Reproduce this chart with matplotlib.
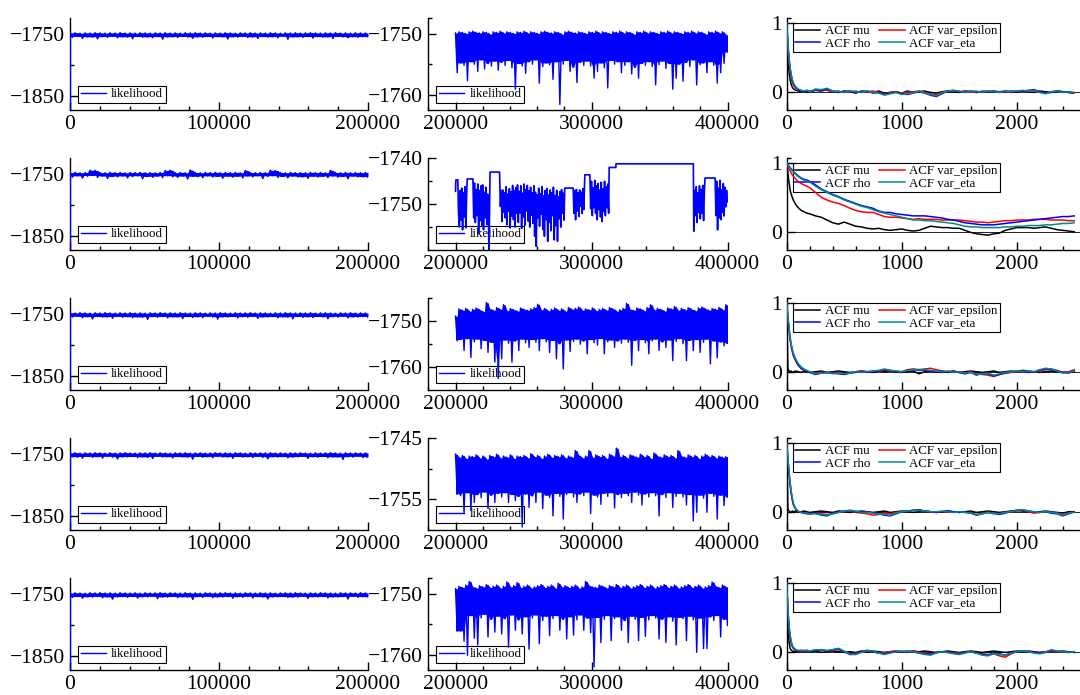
import numpy as np
import matplotlib
matplotlib.use("Agg")
import matplotlib.pyplot as plt
from matplotlib.lines import Line2D
from matplotlib.ticker import FixedLocator, MultipleLocator

plt.rcParams['font.family'] = ['Liberation Serif', 'DejaVu Serif']
plt.rcParams['axes.unicode_minus'] = True
# keep every vertex of the dense traces
plt.rcParams['path.simplify'] = False

BLUE = '#0000ff'
ACF_COLORS = {'mu': '#000000', 'rho': '#0000ff', 'var_epsilon': '#ff0000', 'var_eta': '#008b8b'}

# ---------------------------------------------------------------------------
# Likelihood traces, first half of each chain (iterations 0 - 200000).
# Each chain starts far below the window; after that the trace alternates
# between the upper and lower edge of its band (hi / lo readings).
# ---------------------------------------------------------------------------
LEFT_START = [-1900.0, -1900.0, -1900.0, -1900.0, -1900.0]

LEFT_HI_1 = [-1748.6, -1748.2, -1748.9, -1748.4, -1748.7, -1748.1, -1748.5, -1748.8, -1748.3, -1748.6,
             -1748.0, -1748.7, -1748.4, -1748.9, -1748.2, -1748.5, -1748.8, -1748.3, -1748.6, -1748.1,
             -1748.7, -1748.4, -1748.9, -1748.2, -1748.5, -1748.0, -1748.6, -1748.3, -1748.8, -1748.4,
             -1748.7, -1748.1, -1748.5, -1748.9, -1748.3, -1748.6, -1748.2, -1748.7, -1748.4, -1748.8,
             -1748.1, -1748.5, -1748.9, -1748.3, -1748.6, -1748.2, -1748.7, -1748.4, -1748.0, -1748.5,
             -1748.8, -1748.3, -1748.6, -1748.1, -1748.7, -1748.4, -1748.9, -1748.2, -1748.5, -1748.6]
LEFT_LO_1 = [-1756.0, -1754.2, -1757.5, -1754.8, -1755.3, -1758.1, -1754.5, -1755.9, -1754.1, -1756.6,
             -1754.7, -1755.2, -1757.8, -1754.3, -1755.6, -1754.9, -1756.3, -1754.4, -1758.6, -1755.1,
             -1754.6, -1756.0, -1754.2, -1755.4, -1757.2, -1754.8, -1755.7, -1754.3, -1756.8, -1754.5,
             -1755.0, -1758.3, -1754.7, -1755.5, -1754.2, -1756.1, -1754.9, -1757.4, -1754.4, -1755.3,
             -1754.6, -1756.5, -1754.1, -1758.8, -1755.2, -1754.7, -1755.8, -1754.3, -1756.9, -1754.5,
             -1755.4, -1754.8, -1757.6, -1754.2, -1755.1, -1756.4, -1754.6, -1755.7, -1754.4, -1755.0]

LEFT_HI_2 = [-1748.0, -1747.6, -1748.3, -1747.8, -1744.2, -1744.4, -1747.9, -1748.2, -1747.5, -1748.0,
             -1747.7, -1748.4, -1747.8, -1748.1, -1747.6, -1748.2, -1747.9, -1748.3, -1747.7, -1744.5,
             -1744.0, -1748.1, -1747.6, -1748.2, -1743.8, -1747.9, -1748.3, -1747.7, -1748.0, -1747.5,
             -1748.2, -1747.8, -1748.1, -1747.6, -1748.3, -1744.4, -1747.9, -1748.2, -1747.7, -1748.0,
             -1744.1, -1744.6, -1747.8, -1748.3, -1747.6, -1748.1, -1747.9, -1748.2, -1747.5, -1748.0,
             -1747.7, -1748.3, -1744.3, -1747.8, -1748.1, -1747.6, -1748.2, -1747.9, -1748.0, -1747.7]
LEFT_LO_2 = [-1755.5, -1753.2, -1756.8, -1754.0, -1752.6, -1755.9, -1753.5, -1757.4, -1754.2, -1755.0,
             -1753.4, -1756.5, -1754.6, -1753.1, -1757.9, -1754.3, -1755.6, -1753.7, -1756.1, -1753.0,
             -1754.8, -1755.7, -1753.6, -1758.4, -1753.9, -1754.5, -1756.3, -1753.3, -1755.2, -1754.1,
             -1757.0, -1753.8, -1755.4, -1754.0, -1756.7, -1753.5, -1754.9, -1753.2, -1757.6, -1754.4,
             -1753.0, -1755.8, -1754.2, -1756.4, -1753.6, -1755.1, -1754.7, -1757.2, -1753.9, -1755.3,
             -1754.0, -1756.0, -1753.4, -1755.5, -1754.3, -1758.0, -1753.7, -1755.0, -1754.5, -1755.6]

LEFT_HI_3 = [-1748.3, -1748.7, -1748.1, -1748.5, -1748.9, -1748.2, -1748.6, -1748.0, -1748.4, -1748.8,
             -1748.3, -1748.6, -1748.1, -1748.7, -1748.4, -1748.9, -1748.2, -1748.5, -1748.0, -1748.6,
             -1748.3, -1748.8, -1748.1, -1748.5, -1748.7, -1748.2, -1748.4, -1748.9, -1748.3, -1748.6,
             -1748.0, -1748.5, -1748.8, -1748.2, -1748.6, -1748.4, -1748.1, -1748.7, -1748.3, -1748.5,
             -1748.9, -1748.2, -1748.6, -1748.0, -1748.4, -1748.7, -1748.3, -1748.5, -1748.1, -1748.8,
             -1748.4, -1748.2, -1748.6, -1748.9, -1748.3, -1748.5, -1748.0, -1748.7, -1748.4, -1748.6]
LEFT_LO_3 = [-1755.2, -1754.0, -1756.4, -1754.6, -1758.2, -1754.3, -1755.5, -1754.8, -1757.1, -1754.1,
             -1755.8, -1754.5, -1756.2, -1754.9, -1755.3, -1759.0, -1754.4, -1755.7, -1754.2, -1756.5,
             -1754.7, -1755.1, -1757.6, -1754.3, -1755.9, -1754.6, -1756.1, -1754.0, -1755.4, -1758.5,
             -1754.8, -1755.2, -1754.3, -1756.7, -1754.5, -1755.6, -1754.1, -1757.3, -1754.9, -1755.0,
             -1754.4, -1756.3, -1754.7, -1755.5, -1758.0, -1754.2, -1755.8, -1754.6, -1756.0, -1754.3,
             -1755.1, -1757.8, -1754.5, -1755.4, -1754.0, -1756.6, -1754.8, -1755.3, -1754.2, -1755.7]

LEFT_HI_4 = [-1748.5, -1748.1, -1748.8, -1748.3, -1748.6, -1748.0, -1748.4, -1748.9, -1748.2, -1748.7,
             -1748.4, -1748.1, -1748.6, -1748.8, -1748.3, -1748.5, -1748.0, -1748.7, -1748.2, -1748.6,
             -1748.9, -1748.3, -1748.5, -1748.1, -1748.7, -1748.4, -1748.2, -1748.8, -1748.5, -1748.0,
             -1748.6, -1748.3, -1748.7, -1748.1, -1748.4, -1748.9, -1748.2, -1748.6, -1748.3, -1748.5,
             -1748.0, -1748.7, -1748.4, -1748.8, -1748.2, -1748.5, -1748.1, -1748.6, -1748.9, -1748.3,
             -1748.7, -1748.4, -1748.0, -1748.5, -1748.8, -1748.2, -1748.6, -1748.3, -1748.7, -1748.4]
LEFT_LO_4 = [-1754.6, -1755.3, -1757.0, -1754.2, -1755.8, -1754.5, -1756.9, -1754.0, -1755.4, -1758.3,
             -1754.7, -1755.1, -1754.3, -1756.2, -1754.8, -1755.6, -1757.5, -1754.1, -1755.2, -1754.6,
             -1756.8, -1754.4, -1755.0, -1754.9, -1758.7, -1754.2, -1755.7, -1754.5, -1756.4, -1754.0,
             -1755.3, -1754.8, -1757.2, -1754.3, -1755.5, -1754.6, -1756.0, -1754.1, -1755.9, -1758.1,
             -1754.7, -1755.2, -1754.4, -1756.6, -1754.9, -1755.0, -1754.2, -1757.4, -1754.6, -1755.6,
             -1754.3, -1756.3, -1754.8, -1755.1, -1758.9, -1754.5, -1755.4, -1754.0, -1756.1, -1755.0]

LEFT_HI_5 = [-1748.7, -1748.3, -1748.6, -1748.9, -1748.2, -1748.5, -1748.0, -1748.6, -1748.4, -1748.8,
             -1748.1, -1748.5, -1748.7, -1748.3, -1748.9, -1748.2, -1748.6, -1748.4, -1748.0, -1748.7,
             -1748.3, -1748.5, -1748.8, -1748.1, -1748.6, -1748.4, -1748.9, -1748.2, -1748.5, -1748.7,
             -1748.3, -1748.0, -1748.6, -1748.4, -1748.8, -1748.2, -1748.5, -1748.7, -1748.1, -1748.6,
             -1748.3, -1748.9, -1748.4, -1748.2, -1748.6, -1748.0, -1748.5, -1748.8, -1748.3, -1748.7,
             -1748.1, -1748.4, -1748.6, -1748.9, -1748.2, -1748.5, -1748.3, -1748.7, -1748.0, -1748.5]
LEFT_LO_5 = [-1755.9, -1754.3, -1757.2, -1754.7, -1755.4, -1754.1, -1756.5, -1754.8, -1758.6, -1755.0,
             -1754.4, -1755.7, -1754.2, -1756.9, -1754.6, -1755.2, -1754.0, -1757.7, -1754.9, -1755.5,
             -1754.3, -1756.2, -1754.7, -1755.1, -1759.1, -1754.5, -1755.8, -1754.1, -1756.4, -1754.8,
             -1755.3, -1754.2, -1757.0, -1754.6, -1755.6, -1754.0, -1756.8, -1754.4, -1755.2, -1758.2,
             -1754.7, -1755.0, -1754.3, -1756.1, -1754.9, -1755.5, -1754.1, -1757.5, -1754.6, -1755.3,
             -1754.2, -1756.7, -1754.8, -1755.1, -1754.4, -1758.4, -1754.0, -1755.7, -1754.5, -1755.2]

# ---------------------------------------------------------------------------
# Likelihood traces, second half (iterations 200000 - 400000).
# ---------------------------------------------------------------------------
MID_HI_1 = [-1749.9, -1749.7, -1749.8, -1750.0, -1749.7, -1749.6, -1749.8, -1749.9, -1749.7, -1749.8,
            -1750.1, -1749.7, -1749.8, -1749.6, -1749.9, -1749.7, -1749.8, -1750.0, -1749.7, -1749.8,
            -1749.6, -1749.9, -1749.7, -1749.8, -1750.0, -1749.7, -1749.6, -1749.8, -1749.9, -1749.7,
            -1749.8, -1750.1, -1749.7, -1749.6, -1749.8, -1749.9, -1749.7, -1749.8, -1750.0, -1749.7,
            -1749.8, -1749.6, -1749.9, -1749.7, -1749.8, -1750.0, -1749.7, -1749.8, -1749.6, -1749.9,
            -1749.7, -1749.8, -1750.1, -1749.7, -1749.8, -1749.6, -1749.9, -1749.7, -1749.8, -1750.0,
            -1749.7, -1749.8, -1749.6, -1749.9, -1749.7, -1749.8, -1750.0, -1749.7, -1749.8, -1749.6,
            -1749.9, -1749.7, -1749.8, -1750.1, -1749.7, -1749.8, -1749.6, -1749.9, -1749.7, -1750.2]
MID_LO_1 = [-1756.4, -1754.8, -1755.2, -1757.7, -1754.6, -1755.0, -1756.2, -1754.3, -1755.8, -1754.9,
            -1755.3, -1754.5, -1756.0, -1754.7, -1755.2, -1754.4, -1755.6, -1759.1, -1754.9, -1755.3,
            -1756.5, -1754.6, -1755.0, -1754.3, -1758.1, -1755.4, -1754.8, -1755.1, -1757.5, -1754.6,
            -1761.6, -1755.0, -1754.4, -1756.2, -1755.5, -1758.0, -1754.7, -1755.2, -1754.5, -1755.3,
            -1757.3, -1756.2, -1754.8, -1755.6, -1758.9, -1754.4, -1755.0, -1754.6, -1756.4, -1755.2,
            -1754.6, -1756.6, -1755.5, -1757.3, -1754.9, -1755.2, -1754.6, -1755.4, -1758.4, -1755.1,
            -1754.5, -1755.7, -1754.9, -1759.1, -1757.3, -1755.0, -1757.8, -1754.7, -1755.4, -1754.3,
            -1758.4, -1755.1, -1754.8, -1756.4, -1754.6, -1755.2, -1758.1, -1756.4, -1754.9, -1753.0]

# chain 2 gets stuck for long stretches, so it is kept as (iteration, value) pairs
MID_TRACE_2 = [
    (200000, -1747.2), (200300, -1744.7), (201700, -1744.7),
    (202200, -1752.0), (202900, -1755.0), (203400, -1747.0), (204000, -1753.5), (204600, -1746.5),
    (205200, -1755.6), (205800, -1747.5), (206400, -1752.8), (207000, -1746.2), (207600, -1755.2),
    (208200, -1748.0), (208600, -1744.5), (212800, -1744.5),
    (213400, -1753.0), (214000, -1745.4), (214600, -1754.0), (215200, -1746.8), (215800, -1752.5),
    (216400, -1745.6), (217000, -1756.3), (217600, -1747.0), (218200, -1753.6), (218800, -1746.0),
    (219400, -1754.8), (220000, -1745.8), (220600, -1755.6), (221200, -1747.4), (221800, -1753.0),
    (222400, -1746.3), (223000, -1754.5), (223600, -1747.8), (224200, -1752.0), (224600, -1761.5),
    (225400, -1743.0), (232400, -1743.0),
    (233000, -1750.5), (233600, -1747.0), (234200, -1753.8), (234800, -1746.9), (235400, -1751.8),
    (236000, -1747.5), (236600, -1753.0), (237200, -1746.2), (237800, -1754.5), (238400, -1747.8),
    (239000, -1751.5), (239600, -1746.6), (240200, -1755.2), (240800, -1747.3), (241400, -1752.6),
    (242000, -1745.9), (242600, -1753.4), (243200, -1747.0), (243800, -1755.0), (244400, -1746.4),
    (245000, -1752.0), (245600, -1745.8), (246200, -1754.0), (246800, -1747.2), (247400, -1751.9),
    (248000, -1746.0), (248600, -1755.3), (249200, -1747.6), (249800, -1752.8), (250400, -1745.6),
    (251000, -1754.6), (251600, -1746.8), (252200, -1751.5), (252800, -1745.9), (253400, -1753.7),
    (254000, -1747.1), (254600, -1755.0), (255200, -1746.3), (255800, -1752.4), (256400, -1747.5),
    (257000, -1754.2), (257600, -1746.0), (258200, -1757.0), (258800, -1747.4), (259400, -1759.2),
    (260000, -1748.0), (260600, -1753.0), (261200, -1746.5), (261800, -1754.8), (262400, -1747.7),
    (263000, -1752.2), (263600, -1746.2), (264200, -1755.5), (264800, -1748.2), (265400, -1757.0),
    (266000, -1747.0), (266600, -1753.4), (267200, -1746.6), (267800, -1758.1), (268400, -1748.0),
    (269000, -1754.0), (269600, -1746.9), (270200, -1755.8), (270800, -1747.5), (271400, -1752.5),
    (272000, -1746.3), (272600, -1757.8), (273200, -1748.1), (273800, -1754.7), (274400, -1747.0),
    (275000, -1758.1), (275600, -1748.4), (276200, -1753.2), (276800, -1747.3), (277400, -1755.0),
    (278000, -1746.8), (278600, -1752.0), (279200, -1747.6), (279800, -1753.5),
    (280300, -1746.5), (286500, -1746.5),
    (287100, -1752.0), (287700, -1747.0), (288300, -1753.4), (288900, -1746.8), (289500, -1751.5),
    (290100, -1747.5), (290700, -1752.7), (291300, -1746.9), (291900, -1750.5), (292500, -1747.4),
    (293100, -1752.0), (293700, -1746.6), (294300, -1751.2),
    (295100, -1743.6), (298800, -1743.6),
    (299400, -1751.0), (300000, -1745.0), (300600, -1752.5), (301200, -1746.4), (301800, -1750.8),
    (302400, -1744.8), (303000, -1752.0), (303600, -1746.0), (304200, -1753.4), (304800, -1745.5),
    (305400, -1751.2), (306000, -1746.9), (306600, -1752.8), (307200, -1745.2), (307800, -1753.8),
    (308400, -1746.6), (309000, -1751.6), (309600, -1745.0), (310200, -1752.5), (310800, -1746.2),
    (311400, -1750.8), (312000, -1745.6), (312600, -1752.0),
    (313000, -1742.0), (317900, -1742.0), (318000, -1741.2), (374900, -1741.2),
    (375200, -1755.9), (375800, -1747.0), (376400, -1752.5), (377000, -1746.2), (377600, -1754.0),
    (378200, -1747.5), (378800, -1751.8), (379400, -1746.0), (380000, -1753.2), (380600, -1746.8),
    (381200, -1752.0), (381800, -1745.9), (382400, -1753.6), (383000, -1747.2),
    (383500, -1744.3), (390900, -1744.3),
    (391500, -1752.5), (392100, -1745.0), (392700, -1755.6), (393300, -1746.5), (393900, -1753.0),
    (394500, -1744.8), (395100, -1753.4), (395700, -1746.9), (396300, -1751.8), (396900, -1745.5),
    (397500, -1752.6), (398100, -1746.3), (398700, -1750.6), (399300, -1747.0), (400000, -1749.5),
]

MID_HI_3 = [-1748.9, -1747.3, -1747.6, -1747.2, -1747.8, -1747.4, -1747.1, -1747.5, -1747.9, -1745.9,
            -1747.3, -1747.6, -1747.0, -1747.4, -1746.4, -1747.7, -1747.2, -1747.5, -1747.8, -1747.1,
            -1747.4, -1747.6, -1747.3, -1747.0, -1746.3, -1747.5, -1747.2, -1747.7, -1747.4, -1747.1,
            -1747.6, -1747.3, -1747.8, -1747.0, -1747.4, -1747.2, -1746.9, -1747.6, -1747.3, -1747.5,
            -1747.1, -1747.7, -1747.4, -1747.2, -1747.6, -1747.0, -1747.3, -1747.8, -1747.5, -1747.2,
            -1746.1, -1747.4, -1747.6, -1747.1, -1747.3, -1747.7, -1747.0, -1746.4, -1747.5, -1747.2,
            -1747.4, -1747.8, -1747.1, -1747.3, -1746.8, -1747.6, -1747.2, -1747.5, -1747.0, -1747.4,
            -1747.7, -1747.1, -1746.9, -1747.3, -1747.6, -1747.2, -1747.4, -1747.0, -1747.5, -1746.4]
MID_LO_3 = [-1754.3, -1754.0, -1756.4, -1753.8, -1757.9, -1754.5, -1753.9, -1756.0, -1754.2, -1756.8,
            -1754.6, -1758.9, -1762.5, -1758.2, -1754.1, -1754.8, -1758.9, -1754.3, -1756.4, -1753.9,
            -1754.7, -1755.7, -1754.0, -1754.6, -1756.4, -1753.8, -1754.5, -1756.8, -1754.2, -1758.2,
            -1754.9, -1760.4, -1754.1, -1756.6, -1754.4, -1753.9, -1755.0, -1754.3, -1757.1, -1754.0,
            -1754.7, -1755.2, -1753.8, -1757.1, -1754.5, -1754.1, -1755.7, -1754.3, -1754.8, -1753.9,
            -1754.6, -1759.6, -1754.2, -1756.4, -1754.0, -1754.7, -1757.1, -1754.3, -1753.9, -1756.4,
            -1754.5, -1755.7, -1754.1, -1758.6, -1754.4, -1753.8, -1754.9, -1758.6, -1754.2, -1756.4,
            -1754.0, -1756.8, -1754.6, -1753.9, -1759.3, -1754.3, -1758.0, -1754.5, -1755.4, -1754.8]

MID_HI_4 = [-1747.6, -1748.1, -1747.8, -1748.3, -1747.9, -1748.0, -1747.7, -1748.2, -1747.9, -1748.4,
            -1747.8, -1748.0, -1747.6, -1748.2, -1747.9, -1748.1, -1747.7, -1748.3, -1747.9, -1748.0,
            -1747.8, -1748.2, -1747.5, -1748.0, -1747.8, -1748.3, -1747.9, -1747.6, -1748.1, -1747.8,
            -1748.0, -1747.7, -1748.2, -1747.9, -1748.1, -1747.0, -1747.8, -1748.2, -1747.9, -1747.0,
            -1748.1, -1747.7, -1748.0, -1747.8, -1748.3, -1747.6, -1747.9, -1746.6, -1748.0, -1747.8,
            -1748.2, -1747.7, -1747.9, -1748.1, -1747.6, -1748.0, -1747.8, -1748.3, -1747.4, -1747.9,
            -1748.1, -1747.7, -1748.0, -1747.8, -1748.2, -1747.0, -1747.9, -1748.1, -1747.7, -1748.0,
            -1747.8, -1748.3, -1747.9, -1747.6, -1748.0, -1747.8, -1748.2, -1747.9, -1748.1, -1748.0]
MID_LO_4 = [-1754.1, -1754.4, -1757.3, -1753.9, -1756.8, -1755.5, -1754.2, -1754.7, -1753.8, -1756.5,
            -1754.3, -1755.5, -1754.0, -1754.6, -1753.9, -1755.5, -1754.2, -1755.2, -1754.5, -1759.5,
            -1754.1, -1756.3, -1754.4, -1755.5, -1753.8, -1756.5, -1754.3, -1754.7, -1757.7, -1754.0,
            -1754.5, -1758.2, -1754.2, -1753.9, -1754.6, -1755.5, -1754.1, -1754.4, -1753.8, -1757.3,
            -1754.3, -1754.6, -1755.8, -1754.0, -1754.5, -1753.9, -1756.4, -1754.2, -1754.7, -1754.0,
            -1754.4, -1755.5, -1753.8, -1754.3, -1755.9, -1754.1, -1754.6, -1753.9, -1754.4, -1757.7,
            -1754.2, -1754.7, -1753.9, -1756.3, -1754.5, -1754.0, -1754.6, -1755.9, -1754.2, -1758.5,
            -1757.1, -1754.3, -1754.8, -1757.1, -1754.0, -1754.5, -1758.2, -1754.3, -1756.0, -1754.6]

MID_HI_5 = [-1749.2, -1748.8, -1749.0, -1748.6, -1748.0, -1748.9, -1749.1, -1748.7, -1748.9, -1748.5,
            -1749.0, -1748.8, -1748.6, -1749.1, -1748.8, -1748.1, -1748.9, -1748.7, -1748.2, -1749.0,
            -1748.8, -1748.6, -1749.1, -1748.9, -1748.7, -1748.5, -1749.0, -1748.8, -1748.6, -1749.1,
            -1748.3, -1748.9, -1748.7, -1749.0, -1748.8, -1748.6, -1749.1, -1748.9, -1748.0, -1748.7,
            -1748.9, -1749.0, -1748.6, -1748.8, -1749.1, -1748.7, -1748.9, -1748.5, -1749.0, -1748.8,
            -1748.6, -1749.1, -1748.9, -1748.7, -1748.5, -1749.0, -1748.8, -1748.6, -1749.1, -1748.9,
            -1748.7, -1748.5, -1749.0, -1748.8, -1748.6, -1749.1, -1748.9, -1748.7, -1748.5, -1749.0,
            -1748.8, -1748.6, -1749.1, -1748.9, -1748.7, -1748.1, -1748.8, -1749.0, -1748.6, -1748.9]
MID_LO_5 = [-1756.1, -1756.1, -1757.8, -1760.1, -1753.6, -1757.3, -1758.4, -1754.0, -1753.4, -1757.1,
            -1754.2, -1756.3, -1753.7, -1756.6, -1754.1, -1758.8, -1753.5, -1756.0, -1754.3, -1756.6,
            -1753.8, -1759.1, -1754.0, -1753.5, -1758.2, -1754.4, -1753.7, -1756.9, -1754.1, -1753.6,
            -1756.0, -1754.2, -1757.4, -1753.8, -1756.8, -1754.3, -1753.5, -1756.0, -1754.0, -1756.4,
            -1762.0, -1753.9, -1758.0, -1754.2, -1753.6, -1757.7, -1754.1, -1753.8, -1756.0, -1754.4,
            -1758.0, -1753.7, -1754.2, -1757.7, -1753.9, -1757.0, -1754.3, -1753.6, -1754.0, -1757.4,
            -1754.2, -1758.0, -1753.8, -1754.5, -1758.4, -1753.9, -1754.1, -1757.7, -1753.7, -1754.3,
            -1759.6, -1754.0, -1759.0, -1759.0, -1753.8, -1754.4, -1753.6, -1757.1, -1754.2, -1755.2]

# ---------------------------------------------------------------------------
# Autocorrelation functions of the four parameters
# ---------------------------------------------------------------------------
LAGS = [0, 10, 20, 30, 40, 50, 60, 80, 100, 125, 150, 175, 200,
        250, 300, 350, 400, 450, 500, 550, 600, 650, 700, 750, 800, 850, 900, 950, 1000,
        1050, 1100, 1150, 1200, 1250, 1300, 1350, 1400, 1450, 1500, 1550, 1600, 1650, 1700,
        1750, 1800, 1850, 1900, 1950, 2000, 2050, 2100, 2150, 2200, 2250, 2300, 2350, 2400,
        2450, 2500]

ACF1_MU = [1.00, 0.55, 0.30, 0.17, 0.10, 0.06, 0.04, 0.02, 0.01, 0.00,
           0.01, -0.01, 0.00, 0.02, 0.01, 0.03, 0.00, -0.01, 0.01, 0.00,
           -0.02, 0.01, 0.00, -0.01, 0.01, -0.02, -0.01, 0.00, -0.02, 0.01,
           -0.01, 0.00, 0.01, -0.01, -0.02, 0.00, 0.01, 0.00, -0.01, 0.01,
           0.00, -0.01, 0.00, 0.01, -0.01, 0.00, 0.01, -0.01, 0.00, 0.01,
           0.00, -0.01, 0.01, 0.00, -0.01, 0.01, 0.00, -0.01, -0.02]
ACF1_RHO = [1.00, 0.70, 0.48, 0.33, 0.23, 0.16, 0.11, 0.06, 0.03, 0.01,
            0.00, 0.01, 0.00, 0.03, 0.02, 0.04, 0.01, -0.01, 0.00, 0.01,
            -0.01, 0.00, 0.01, -0.02, -0.01, -0.04, -0.02, -0.01, -0.03, -0.04,
            -0.02, 0.00, -0.02, -0.05, -0.07, -0.03, 0.01, 0.02, 0.00, -0.01,
            0.01, 0.00, -0.01, 0.00, 0.01, -0.01, 0.00, 0.01, 0.00, 0.01,
            0.02, 0.03, 0.00, -0.02, -0.01, 0.01, 0.00, -0.01, -0.02]
ACF1_EPS = [1.00, 0.65, 0.43, 0.29, 0.20, 0.13, 0.09, 0.05, 0.03, 0.02,
            0.01, 0.02, 0.01, 0.02, 0.03, 0.02, 0.00, 0.01, -0.01, 0.00,
            0.01, -0.01, 0.00, 0.01, -0.01, -0.03, -0.01, 0.00, -0.02, -0.01,
            0.00, 0.01, -0.01, -0.03, -0.04, -0.01, 0.01, 0.01, 0.00, 0.01,
            0.00, -0.01, 0.01, 0.00, 0.01, 0.00, -0.01, 0.00, 0.01, 0.00,
            0.01, 0.01, -0.01, -0.02, 0.00, 0.01, -0.01, 0.00, -0.01]
ACF1_ETA = [1.00, 0.72, 0.50, 0.35, 0.25, 0.17, 0.12, 0.07, 0.04, 0.02,
            0.01, 0.02, 0.00, 0.04, 0.03, 0.05, 0.01, 0.00, -0.01, 0.01,
            0.00, -0.01, 0.01, -0.01, -0.02, -0.05, -0.03, -0.01, -0.04, -0.03,
            -0.02, 0.01, -0.02, -0.04, -0.06, -0.02, 0.01, 0.02, 0.01, -0.01,
            0.00, 0.01, -0.01, 0.01, 0.00, -0.01, 0.01, 0.00, 0.01, 0.02,
            0.01, 0.02, -0.01, -0.03, 0.00, 0.01, -0.01, 0.00, -0.02]

ACF2_MU = [1.00, 0.85, 0.72, 0.60, 0.54, 0.49, 0.45, 0.39, 0.35, 0.31,
           0.29, 0.27, 0.26, 0.23, 0.21, 0.17, 0.13, 0.11, 0.14, 0.11,
           0.08, 0.07, 0.05, 0.04, 0.05, 0.03, 0.02, 0.03, 0.04, 0.02,
           0.01, 0.02, 0.05, 0.08, 0.07, 0.06, 0.06, 0.05, 0.05, 0.02,
           -0.01, -0.03, -0.04, -0.05, -0.03, -0.02, 0.02, 0.04, 0.06, 0.06,
           0.06, 0.05, 0.06, 0.07, 0.05, 0.03, 0.02, 0.01, 0.00]
ACF2_RHO = [1.00, 0.98, 0.95, 0.93, 0.91, 0.89, 0.87, 0.84, 0.81, 0.78,
            0.76, 0.75, 0.73, 0.68, 0.62, 0.58, 0.54, 0.51, 0.47, 0.44,
            0.41, 0.38, 0.36, 0.34, 0.30, 0.28, 0.28, 0.26, 0.25, 0.24,
            0.23, 0.23, 0.23, 0.22, 0.21, 0.20, 0.18, 0.17, 0.15, 0.13,
            0.12, 0.11, 0.10, 0.10, 0.10, 0.11, 0.12, 0.13, 0.14, 0.15,
            0.16, 0.17, 0.18, 0.19, 0.20, 0.21, 0.22, 0.22, 0.23]
ACF2_EPS = [1.00, 0.95, 0.91, 0.88, 0.85, 0.82, 0.80, 0.76, 0.73, 0.70,
            0.68, 0.66, 0.64, 0.57, 0.50, 0.46, 0.43, 0.41, 0.38, 0.34,
            0.31, 0.29, 0.28, 0.28, 0.25, 0.22, 0.21, 0.21, 0.20, 0.19,
            0.18, 0.19, 0.18, 0.18, 0.18, 0.17, 0.17, 0.17, 0.17, 0.16,
            0.15, 0.14, 0.14, 0.13, 0.14, 0.15, 0.16, 0.16, 0.17, 0.17,
            0.17, 0.18, 0.18, 0.18, 0.17, 0.17, 0.17, 0.16, 0.16]
ACF2_ETA = [1.00, 0.97, 0.94, 0.92, 0.90, 0.88, 0.86, 0.83, 0.80, 0.77,
            0.75, 0.73, 0.72, 0.66, 0.61, 0.57, 0.53, 0.50, 0.46, 0.43,
            0.40, 0.37, 0.35, 0.32, 0.29, 0.27, 0.25, 0.23, 0.21, 0.19,
            0.17, 0.17, 0.16, 0.16, 0.15, 0.14, 0.13, 0.12, 0.10, 0.08,
            0.07, 0.07, 0.06, 0.06, 0.06, 0.06, 0.07, 0.07, 0.08, 0.08,
            0.09, 0.09, 0.09, 0.10, 0.10, 0.11, 0.12, 0.12, 0.13]

ACF3_MU = [1.00, 0.05, 0.01, 0.00, 0.01, -0.01, 0.00, 0.01, 0.00, -0.01,
           0.01, 0.00, -0.01, 0.00, 0.01, -0.01, 0.00, 0.01, 0.00, -0.01,
           0.00, 0.01, 0.00, -0.01, 0.01, 0.00, 0.01, 0.00, -0.01, 0.00,
           0.01, -0.03, 0.00, 0.01, 0.00, -0.01, 0.00, 0.01, -0.01, 0.00,
           0.01, 0.00, -0.01, 0.00, 0.01, -0.01, 0.00, 0.01, 0.00, 0.02,
           0.01, 0.00, -0.01, 0.00, 0.01, 0.00, -0.01, 0.00, 0.00]
ACF3_RHO = [1.00, 0.80, 0.62, 0.48, 0.38, 0.30, 0.24, 0.16, 0.10, 0.05,
            0.03, 0.01, -0.01, -0.04, -0.02, -0.01, -0.02, -0.03, -0.04, -0.02,
            -0.01, 0.00, -0.01, 0.00, 0.01, 0.03, 0.02, 0.00, -0.01, 0.02,
            0.03, 0.02, 0.02, 0.01, 0.00, 0.01, -0.01, 0.00, -0.01, -0.03,
            -0.01, -0.05, -0.02, -0.03, -0.06, -0.04, -0.02, 0.00, 0.01, 0.00,
            -0.01, 0.00, 0.02, 0.04, 0.03, 0.01, -0.01, -0.02, 0.01]
ACF3_EPS = [1.00, 0.78, 0.60, 0.46, 0.36, 0.28, 0.22, 0.15, 0.09, 0.05,
            0.02, 0.01, -0.01, -0.02, -0.01, -0.02, -0.01, -0.02, -0.03, -0.02,
            0.00, 0.01, 0.00, 0.01, 0.00, 0.02, 0.01, 0.01, 0.00, 0.03,
            0.04, 0.03, 0.04, 0.05, 0.03, 0.01, 0.00, 0.01, -0.01, -0.02,
            0.00, -0.03, -0.04, -0.05, -0.07, -0.04, -0.02, -0.01, 0.00, 0.01,
            0.00, -0.01, 0.01, 0.03, 0.04, 0.02, -0.01, 0.00, 0.03]
ACF3_ETA = [1.00, 0.82, 0.64, 0.50, 0.40, 0.32, 0.26, 0.18, 0.12, 0.07,
            0.04, 0.02, 0.00, -0.03, -0.02, -0.01, -0.03, -0.02, -0.03, -0.02,
            0.00, -0.01, 0.00, 0.01, 0.02, 0.04, 0.02, 0.01, 0.00, 0.02,
            0.03, 0.03, 0.03, 0.02, 0.01, 0.00, 0.01, -0.01, 0.00, -0.02,
            -0.01, -0.04, -0.03, -0.02, -0.05, -0.03, -0.01, 0.00, 0.01, 0.00,
            0.01, 0.00, 0.03, 0.05, 0.04, 0.01, -0.02, -0.01, 0.01]

ACF4_MU = [1.00, 0.04, 0.01, 0.00, -0.01, 0.01, 0.00, 0.01, -0.01, 0.00,
           0.01, 0.00, -0.01, 0.00, 0.01, 0.00, -0.01, 0.01, 0.00, -0.01,
           0.00, 0.01, 0.00, -0.01, 0.00, 0.01, -0.01, 0.00, 0.01, 0.00,
           -0.01, 0.00, 0.01, 0.00, -0.01, 0.00, 0.01, 0.00, -0.01, 0.00,
           0.01, -0.01, 0.00, 0.01, 0.00, -0.01, 0.00, 0.01, 0.02, 0.01,
           0.00, -0.01, 0.00, 0.01, 0.00, -0.01, -0.02, 0.00, 0.00]
ACF4_RHO = [1.00, 0.78, 0.57, 0.40, 0.27, 0.17, 0.10, 0.03, 0.00, -0.01,
            -0.02, -0.03, -0.03, -0.02, -0.05, -0.06, -0.02, 0.00, 0.01, 0.02,
            0.00, -0.01, 0.00, -0.02, -0.03, -0.05, -0.06, -0.03, 0.00, 0.01,
            0.02, 0.03, 0.01, 0.00, -0.01, 0.00, 0.01, 0.00, -0.01, 0.00,
            -0.02, -0.05, -0.03, -0.01, -0.02, -0.04, -0.02, 0.00, 0.02, 0.03,
            0.01, 0.00, -0.01, 0.00, -0.02, -0.03, -0.06, -0.03, 0.00]
ACF4_EPS = [1.00, 0.75, 0.54, 0.38, 0.25, 0.16, 0.09, 0.03, 0.00, -0.01,
            -0.02, -0.02, -0.03, -0.02, -0.03, -0.04, -0.03, -0.01, 0.00, 0.01,
            -0.01, -0.02, -0.03, -0.05, -0.04, -0.02, -0.03, -0.01, 0.00, 0.01,
            0.02, 0.02, 0.01, 0.00, -0.01, 0.00, 0.00, -0.01, 0.00, -0.01,
            -0.02, -0.04, -0.02, -0.01, -0.03, -0.03, -0.01, 0.00, 0.01, 0.02,
            0.00, -0.02, -0.01, 0.00, -0.01, -0.02, -0.04, -0.02, 0.00]
ACF4_ETA = [1.00, 0.80, 0.59, 0.42, 0.29, 0.19, 0.11, 0.04, 0.01, -0.01,
            -0.02, -0.02, -0.03, -0.03, -0.04, -0.05, -0.03, -0.01, 0.01, 0.02,
            0.01, -0.01, -0.01, -0.02, -0.03, -0.04, -0.05, -0.02, 0.00, 0.01,
            0.02, 0.02, 0.01, 0.00, 0.00, 0.01, 0.00, -0.01, 0.00, -0.01,
            -0.02, -0.04, -0.03, -0.01, -0.02, -0.03, -0.01, 0.00, 0.02, 0.03,
            0.01, 0.00, -0.01, 0.00, -0.01, -0.02, -0.05, -0.02, -0.01]

ACF5_MU = [1.00, 0.40, 0.15, 0.05, 0.02, 0.01, 0.00, 0.01, 0.00, 0.01,
           0.00, 0.01, 0.00, 0.01, -0.01, 0.00, 0.01, 0.00, -0.01, 0.00,
           -0.01, 0.01, 0.00, 0.01, 0.00, -0.01, 0.00, 0.01, 0.00, -0.01,
           0.01, 0.00, 0.01, 0.00, -0.01, 0.00, 0.01, 0.00, -0.01, 0.00,
           0.01, 0.00, -0.01, 0.00, 0.01, 0.00, -0.01, 0.00, 0.01, 0.00,
           0.01, 0.00, -0.01, 0.00, 0.01, 0.00, 0.01, 0.00, -0.01]
ACF5_RHO = [1.00, 0.62, 0.37, 0.22, 0.13, 0.08, 0.05, 0.02, 0.01, 0.02,
            0.01, 0.02, 0.01, 0.02, 0.03, 0.01, 0.03, 0.04, 0.00, -0.04,
            -0.03, 0.00, 0.02, 0.00, -0.02, -0.03, -0.01, 0.00, 0.00, 0.01,
            0.00, -0.02, -0.03, -0.04, -0.01, 0.00, -0.01, -0.02, -0.03, -0.01,
            0.00, -0.02, -0.04, -0.05, -0.02, -0.03, -0.05, -0.02, 0.00, 0.01,
            0.00, -0.01, -0.02, -0.01, 0.02, 0.01, 0.00, -0.01, 0.00]
ACF5_EPS = [1.00, 0.58, 0.33, 0.19, 0.11, 0.07, 0.04, 0.02, 0.01, 0.01,
            0.00, 0.01, 0.01, 0.02, 0.02, 0.01, 0.02, 0.03, 0.00, -0.03,
            -0.02, 0.00, 0.01, 0.00, -0.02, -0.01, 0.00, 0.01, 0.00, 0.00,
            0.01, -0.01, -0.02, -0.03, -0.01, 0.00, -0.01, -0.01, -0.02, -0.01,
            0.00, -0.02, -0.03, -0.04, -0.03, -0.06, -0.08, -0.03, 0.00, 0.01,
            0.00, -0.01, -0.01, 0.00, 0.01, 0.00, 0.00, -0.01, 0.00]
ACF5_ETA = [1.00, 0.64, 0.39, 0.24, 0.15, 0.09, 0.06, 0.03, 0.02, 0.02,
            0.02, 0.02, 0.01, 0.03, 0.03, 0.02, 0.03, 0.05, 0.01, -0.04,
            -0.04, -0.01, 0.02, 0.01, -0.02, -0.04, -0.02, 0.00, 0.01, 0.00,
            0.00, -0.02, -0.04, -0.05, -0.02, 0.00, -0.01, -0.03, -0.04, -0.02,
            0.00, -0.02, -0.05, -0.06, -0.03, -0.04, -0.05, -0.02, 0.00, 0.01,
            0.00, -0.02, -0.03, -0.01, 0.03, 0.01, 0.00, -0.01, 0.00]

LEFT_BANDS = [(LEFT_HI_1, LEFT_LO_1), (LEFT_HI_2, LEFT_LO_2), (LEFT_HI_3, LEFT_LO_3),
              (LEFT_HI_4, LEFT_LO_4), (LEFT_HI_5, LEFT_LO_5)]
MID_BANDS = [(MID_HI_1, MID_LO_1), None, (MID_HI_3, MID_LO_3),
             (MID_HI_4, MID_LO_4), (MID_HI_5, MID_LO_5)]
ACF_ROWS = [
    {'mu': ACF1_MU, 'rho': ACF1_RHO, 'var_epsilon': ACF1_EPS, 'var_eta': ACF1_ETA},
    {'mu': ACF2_MU, 'rho': ACF2_RHO, 'var_epsilon': ACF2_EPS, 'var_eta': ACF2_ETA},
    {'mu': ACF3_MU, 'rho': ACF3_RHO, 'var_epsilon': ACF3_EPS, 'var_eta': ACF3_ETA},
    {'mu': ACF4_MU, 'rho': ACF4_RHO, 'var_epsilon': ACF4_EPS, 'var_eta': ACF4_ETA},
    {'mu': ACF5_MU, 'rho': ACF5_RHO, 'var_epsilon': ACF5_EPS, 'var_eta': ACF5_ETA},
]

# y-axis settings of the second-half panels: limits, labelled ticks, small ticks
MID_Y = [
    ((-1762.5, -1747.5), [-1760, -1750], [-1755, -1747.5]),
    ((-1760.0, -1740.0), [-1750, -1740], [-1755, -1745]),
    ((-1765.0, -1745.0), [-1760, -1750], [-1755, -1745]),
    ((-1760.0, -1745.0), [-1755, -1745], [-1750]),
    ((-1762.5, -1747.5), [-1760, -1750], [-1755, -1747.5]),
]

# ---------------------------------------------------------------------------
# Figure layout (pixel geometry of the 3 x 5 panel grid)
# ---------------------------------------------------------------------------
W, H = 1080.0, 695.0
fig = plt.figure(figsize=(W / 100, H / 100), dpi=100)
COL_X = [(70.0, 368.0), (428.3, 727.5), (786.7, 1080.0)]
ROW_TOP0, ROW_BOT0, ROW_STEP = 18.3, 110.0, 140.0
TICK_SIZE = 15.5
LEG_SIZE = 9.3


def make_axes(col, row):
    x0, x1 = COL_X[col]
    top = ROW_TOP0 + ROW_STEP * row
    bot = ROW_BOT0 + ROW_STEP * row
    return fig.add_axes([x0 / W, 1 - bot / H, (x1 - x0) / W, (bot - top) / H])


def style(ax):
    for s in ('top', 'right'):
        ax.spines[s].set_visible(False)
    for s in ('left', 'bottom'):
        ax.spines[s].set_linewidth(1.0)
        ax.spines[s].set_color('black')
    ax.tick_params(which='both', direction='in', top=False, right=False,
                   labelsize=TICK_SIZE, width=1.0, colors='black')
    ax.tick_params(which='major', length=5.5)
    ax.tick_params(which='minor', length=3.0)
    ax.tick_params(axis='x', pad=3.6)
    ax.tick_params(axis='y', pad=3.6)
    ax.patch.set_alpha(0)


def zigzag(hi, lo, x0, x1):
    y = np.column_stack([np.asarray(hi), np.asarray(lo)]).ravel()
    x = np.linspace(x0, x1, y.size)
    return x, y


def draw_band(ax, x, y, hi, lo, lw):
    # the densely overplotted core of the trace: from the upper edge down to
    # the shallower of neighbouring lows; isolated deep dips stay thin lines
    hi = np.asarray(hi)
    lo = np.asarray(lo)
    prev_lo = np.concatenate([lo[:1], lo[:-1]])
    next_lo = np.concatenate([lo[1:], lo[-1:]])
    core = np.maximum(np.maximum(prev_lo, lo), next_lo)
    ax.fill_between(x, np.repeat(hi, 2), np.repeat(core, 2), color=BLUE, lw=0, zorder=2.9)
    ax.plot(x, y, color=BLUE, lw=lw, zorder=3)


def int_fmt(v, pos):
    return f"{v:.0f}".replace('-', '\u2212')


def trace_legend(ax):
    h = Line2D([], [], color=BLUE, lw=1.0)
    leg = ax.legend([h], ['likelihood'], loc='lower left',
                    bbox_to_anchor=(8.0 / 298.0, 7.0 / 91.7), borderaxespad=0,
                    prop={'size': LEG_SIZE}, fancybox=False, edgecolor='black',
                    facecolor='none', framealpha=1, handlelength=1.95,
                    handletextpad=0.4, borderpad=0.2)
    leg.get_frame().set_linewidth(0.8)
    leg.set_zorder(1)


for r in range(5):
    # ---- first half of the chain ----
    ax = make_axes(0, r)
    style(ax)
    hi, lo = LEFT_BANDS[r]
    x, y = zigzag(hi, lo, 0, 200000)
    draw_band(ax, x, y, hi, lo, 1.0)
    ax.plot([0, 0], [LEFT_START[r], hi[0]], color=BLUE, lw=1.6, zorder=3)
    ax.set_xlim(0, 200000)
    ax.set_ylim(-1872.5, -1725.0)
    ax.xaxis.set_major_locator(FixedLocator([0, 100000, 200000]))
    ax.xaxis.set_minor_locator(MultipleLocator(20000))
    ax.yaxis.set_major_locator(FixedLocator([-1850, -1750]))
    ax.yaxis.set_minor_locator(FixedLocator([-1800]))
    ax.xaxis.set_major_formatter(plt.FuncFormatter(int_fmt))
    ax.yaxis.set_major_formatter(plt.FuncFormatter(int_fmt))
    trace_legend(ax)

    # ---- second half of the chain ----
    ax = make_axes(1, r)
    style(ax)
    if MID_BANDS[r] is None:
        x, y = zip(*MID_TRACE_2)
        ax.plot(x, y, color=BLUE, lw=1.2, zorder=3)
    else:
        hi, lo = MID_BANDS[r]
        x, y = zigzag(hi, lo, 200000, 400000)
        draw_band(ax, x, y, hi, lo, 1.0)
    (ylo, yhi), major, minor = MID_Y[r]
    ax.set_xlim(180000, 400000)
    ax.set_ylim(ylo, yhi)
    ax.xaxis.set_major_locator(FixedLocator([200000, 300000, 400000]))
    ax.xaxis.set_minor_locator(MultipleLocator(20000))
    ax.yaxis.set_major_locator(FixedLocator(major))
    ax.yaxis.set_minor_locator(FixedLocator(minor))
    ax.xaxis.set_major_formatter(plt.FuncFormatter(int_fmt))
    ax.yaxis.set_major_formatter(plt.FuncFormatter(int_fmt))
    trace_legend(ax)

    # ---- autocorrelation ----
    ax = make_axes(2, r)
    style(ax)
    ax.axhline(0, color='black', lw=0.6, zorder=1.5)
    handles = {}
    for name in ('mu', 'var_epsilon', 'rho', 'var_eta'):
        handles[name], = ax.plot(LAGS, ACF_ROWS[r][name], color=ACF_COLORS[name], lw=1.1, zorder=3)
    ax.set_xlim(0, 2550)
    ax.set_ylim(-0.265, 1.065)
    ax.xaxis.set_major_locator(FixedLocator([0, 1000, 2000]))
    ax.xaxis.set_minor_locator(MultipleLocator(200))
    ax.yaxis.set_major_locator(FixedLocator([0, 1]))
    ax.yaxis.set_minor_locator(FixedLocator([1.065]))
    order = ['mu', 'rho', 'var_epsilon', 'var_eta']
    leg = ax.legend([handles[n] for n in order], ['ACF ' + n for n in order], ncol=2,
                    loc='upper left', bbox_to_anchor=(6.0 / 293.3, 1 - 4.4 / 91.7),
                    borderaxespad=0, prop={'size': LEG_SIZE}, fancybox=False,
                    edgecolor='black', facecolor='none', framealpha=1,
                    handlelength=1.95, handletextpad=0.35, columnspacing=0.7,
                    labelspacing=0.02, borderpad=0.2)
    leg.get_frame().set_linewidth(0.8)
    leg.set_zorder(1)

fig.savefig('out.png', dpi=100)
